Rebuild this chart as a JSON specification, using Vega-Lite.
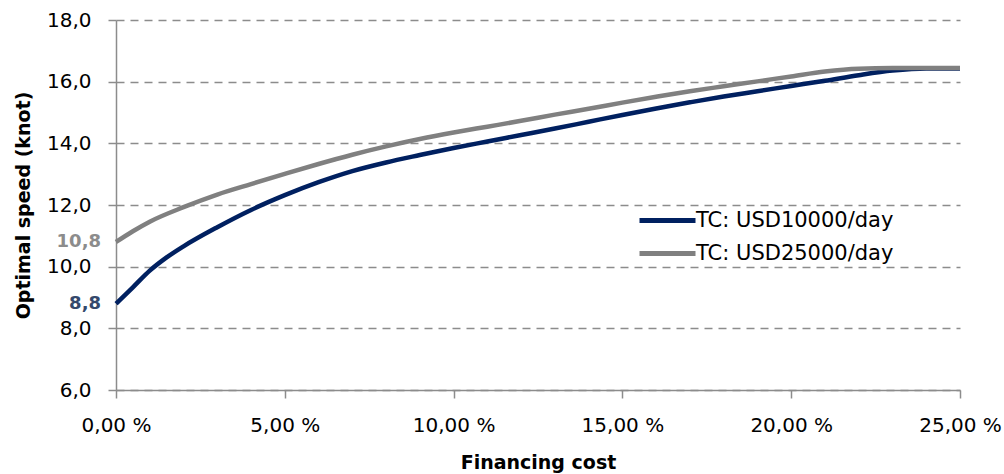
{
  "$schema": "https://vega.github.io/schema/vega-lite/v6.json",
  "width": 844,
  "height": 370,
  "autosize": {"type": "none"},
  "padding": {"left": 116, "top": 20, "right": 44, "bottom": 84},
  "background": "white",
  "config": {
    "view": {"stroke": null},
    "font": "DejaVu Sans",
    "axis": {"labelFont": "DejaVu Sans", "titleFont": "DejaVu Sans"}
  },
  "datasets": {
    "curves": [
      {"series": "TC: USD10000/day", "cost": 0, "speed": 8.8},
      {"series": "TC: USD10000/day", "cost": 0.5, "speed": 9.33},
      {"series": "TC: USD10000/day", "cost": 1, "speed": 9.87},
      {"series": "TC: USD10000/day", "cost": 1.5, "speed": 10.3},
      {"series": "TC: USD10000/day", "cost": 2, "speed": 10.66},
      {"series": "TC: USD10000/day", "cost": 3, "speed": 11.28},
      {"series": "TC: USD10000/day", "cost": 4, "speed": 11.84},
      {"series": "TC: USD10000/day", "cost": 5, "speed": 12.32},
      {"series": "TC: USD10000/day", "cost": 6, "speed": 12.74},
      {"series": "TC: USD10000/day", "cost": 7, "speed": 13.1},
      {"series": "TC: USD10000/day", "cost": 8, "speed": 13.38},
      {"series": "TC: USD10000/day", "cost": 9, "speed": 13.62},
      {"series": "TC: USD10000/day", "cost": 10, "speed": 13.85},
      {"series": "TC: USD10000/day", "cost": 11, "speed": 14.06},
      {"series": "TC: USD10000/day", "cost": 12, "speed": 14.27},
      {"series": "TC: USD10000/day", "cost": 13, "speed": 14.48},
      {"series": "TC: USD10000/day", "cost": 14, "speed": 14.7},
      {"series": "TC: USD10000/day", "cost": 15, "speed": 14.92},
      {"series": "TC: USD10000/day", "cost": 16, "speed": 15.13},
      {"series": "TC: USD10000/day", "cost": 17, "speed": 15.33},
      {"series": "TC: USD10000/day", "cost": 18, "speed": 15.52},
      {"series": "TC: USD10000/day", "cost": 19, "speed": 15.69},
      {"series": "TC: USD10000/day", "cost": 20, "speed": 15.86},
      {"series": "TC: USD10000/day", "cost": 21, "speed": 16.03},
      {"series": "TC: USD10000/day", "cost": 22, "speed": 16.21},
      {"series": "TC: USD10000/day", "cost": 23, "speed": 16.36},
      {"series": "TC: USD10000/day", "cost": 24, "speed": 16.43},
      {"series": "TC: USD10000/day", "cost": 25, "speed": 16.43},
      {"series": "TC: USD25000/day", "cost": 0, "speed": 10.8},
      {"series": "TC: USD25000/day", "cost": 0.5, "speed": 11.15},
      {"series": "TC: USD25000/day", "cost": 1, "speed": 11.46},
      {"series": "TC: USD25000/day", "cost": 2, "speed": 11.93},
      {"series": "TC: USD25000/day", "cost": 3, "speed": 12.34},
      {"series": "TC: USD25000/day", "cost": 4, "speed": 12.68},
      {"series": "TC: USD25000/day", "cost": 5, "speed": 13.01},
      {"series": "TC: USD25000/day", "cost": 6, "speed": 13.33},
      {"series": "TC: USD25000/day", "cost": 7, "speed": 13.63},
      {"series": "TC: USD25000/day", "cost": 8, "speed": 13.9},
      {"series": "TC: USD25000/day", "cost": 9, "speed": 14.14},
      {"series": "TC: USD25000/day", "cost": 10, "speed": 14.35},
      {"series": "TC: USD25000/day", "cost": 11, "speed": 14.54},
      {"series": "TC: USD25000/day", "cost": 12, "speed": 14.73},
      {"series": "TC: USD25000/day", "cost": 13, "speed": 14.93},
      {"series": "TC: USD25000/day", "cost": 14, "speed": 15.12},
      {"series": "TC: USD25000/day", "cost": 15, "speed": 15.32},
      {"series": "TC: USD25000/day", "cost": 16, "speed": 15.51},
      {"series": "TC: USD25000/day", "cost": 17, "speed": 15.69},
      {"series": "TC: USD25000/day", "cost": 18, "speed": 15.85},
      {"series": "TC: USD25000/day", "cost": 19, "speed": 16.01},
      {"series": "TC: USD25000/day", "cost": 20, "speed": 16.17},
      {"series": "TC: USD25000/day", "cost": 21, "speed": 16.33},
      {"series": "TC: USD25000/day", "cost": 22, "speed": 16.42},
      {"series": "TC: USD25000/day", "cost": 23, "speed": 16.44},
      {"series": "TC: USD25000/day", "cost": 24, "speed": 16.44},
      {"series": "TC: USD25000/day", "cost": 25, "speed": 16.44}
    ],
    "labels": [
      {"series": "TC: USD10000/day", "cost": 0, "speed": 8.8, "label": "8,8"},
      {"series": "TC: USD25000/day", "cost": 0, "speed": 10.8, "label": "10,8"}
    ]
  },
  "layer": [
    {
      "data": {"name": "curves"},
      "mark": {"type": "line", "strokeWidth": 4.5, "interpolate": "monotone", "clip": false},
      "encoding": {
        "x": {
          "field": "cost", "type": "quantitative",
          "scale": {"domain": [0, 25], "nice": false, "zero": false},
          "axis": {
            "values": [0, 5, 10, 15, 20, 25],
            "labelExpr": "replace(format(datum.value, '.2f'), '.', ',') + ' %'",
            "title": "Financing cost",
            "titleFontSize": 19, "titleFontWeight": "bold", "titleColor": "#000",
            "titleX": 422, "titleY": 78, "titleBaseline": "alphabetic", "titleAlign": "center",
            "labelFontSize": 20, "labelColor": "#000", "labelPadding": 17,
            "grid": false,
            "domainColor": "#8c8c8c", "domainWidth": 1.5,
            "tickColor": "#8c8c8c", "tickWidth": 1.5, "tickSize": 8,
            "labelFlush": false
          }
        },
        "y": {
          "field": "speed", "type": "quantitative",
          "scale": {"domain": [6, 18], "nice": false, "zero": false},
          "axis": {
            "values": [6, 8, 10, 12, 14, 16, 18],
            "labelExpr": "replace(format(datum.value, '.1f'), '.', ',')",
            "title": "Optimal speed (knot)",
            "titleFontSize": 19, "titleFontWeight": "bold", "titleColor": "#000",
            "titleAngle": -90, "titleX": -93, "titleY": 185, "titleBaseline": "middle", "titleAlign": "center",
            "labelFontSize": 20, "labelColor": "#000", "labelPadding": 17,
            "grid": true, "gridColor": "#8c8c8c", "gridDash": [8, 6], "gridWidth": 1.5,
            "domainColor": "#8c8c8c", "domainWidth": 1.5,
            "tickColor": "#8c8c8c", "tickWidth": 1.5, "tickSize": 8,
            "labelFlush": false
          }
        },
        "color": {
          "field": "series", "type": "nominal",
          "scale": {"domain": ["TC: USD10000/day", "TC: USD25000/day"], "range": ["#002060", "#808080"]},
          "legend": {
            "title": null,
            "orient": "none",
            "legendX": 549,
            "legendY": 184,
            "padding": 0,
            "symbolType": "M-3,0H1",
            "symbolSize": 784,
            "symbolStrokeWidth": 5,
            "labelFontSize": 21,
            "labelColor": "#000",
            "labelOffset": -2,
            "labelLimit": 400,
            "rowPadding": 6
          }
        }
      }
    },
    {
      "data": {"name": "labels"},
      "mark": {"type": "text", "align": "right", "baseline": "middle", "dx": -15, "fontSize": 18, "fontWeight": "bold"},
      "encoding": {
        "x": {"field": "cost", "type": "quantitative"},
        "y": {"field": "speed", "type": "quantitative"},
        "text": {"field": "label"},
        "color": {
          "condition": {"test": "datum.series == 'TC: USD10000/day'", "value": "#34496c"},
          "value": "#8c8c8c"
        }
      }
    }
  ]
}
